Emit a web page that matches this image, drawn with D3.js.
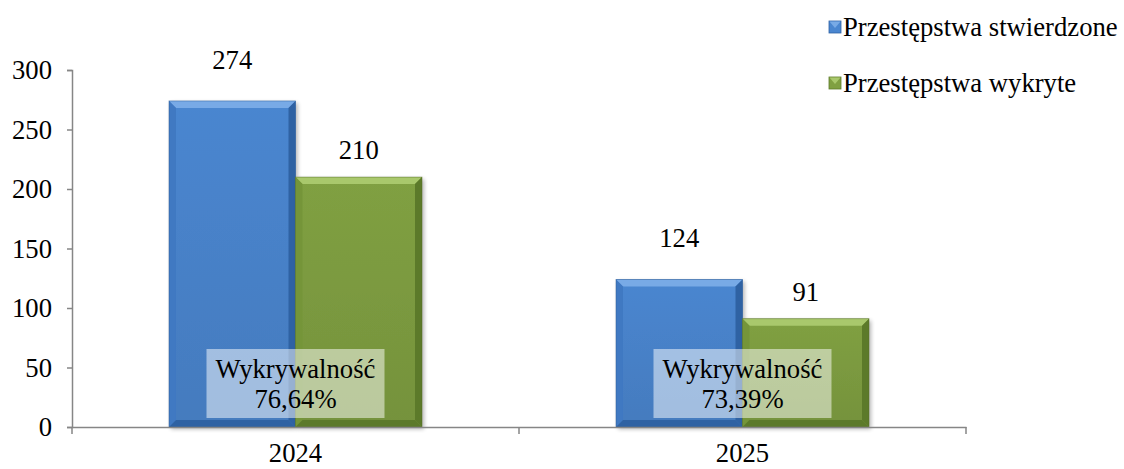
<!DOCTYPE html>
<html><head><meta charset="utf-8">
<script src="https://cdn.jsdelivr.net/npm/d3@7"></script>
<style>body{margin:0;background:#fff}svg{display:block}</style>
</head><body>
<svg id="c" width="1124" height="469"></svg>
<script>
const categories = ["2024", "2025"];
const seriesNames = ["Przestępstwa stwierdzone", "Przestępstwa wykryte"];
const stwierdzone = [274, 124];
const wykryte = [210, 91];
const wykrywalnosc = ["76,64%", "73,39%"];
const yTicks = [0, 50, 100, 150, 200, 250, 300];

const FONT = "'Liberation Serif', serif";
const FS = "26.67px";
const svg = d3.select("#c");
const W = 1124, H = 469;
const m = {l: 72, r: 158, t: 70, b: 42};
const x = d3.scaleBand().domain(categories).range([m.l, W - m.r]).paddingInner(0.434).paddingOuter(0.217);
const x0 = d3.scaleBand().domain(categories).range([m.l, W - m.r]);
const xs = d3.scaleBand().domain([0, 1]).range([0, x.bandwidth()]);
const y = d3.scaleLinear().domain([0, 300]).range([H - m.b, m.t]);

function txt(sel) { return sel.attr("font-family", null).style("font-family", FONT).style("font-size", FS).attr("fill", "#000"); }

const colors = [
  {main: "#4a86d0", light: "#78aae6", dark: "#2f62a3", side: "#4079c2"},
  {main: "#80a042", light: "#a9c86c", dark: "#5c7a2a", side: "#759539"}
];
const defs = svg.append("defs");
colors.forEach((c, i) => {
  const g = defs.append("linearGradient").attr("id", "g" + i).attr("x1", 0).attr("y1", 0).attr("x2", 0).attr("y2", 1);
  g.append("stop").attr("offset", 0).attr("stop-color", c.main);
  g.append("stop").attr("offset", 1).attr("stop-color", d3.color(c.main).darker(0.25));
});
const sh = defs.append("filter").attr("id", "sh").attr("x", -0.1).attr("y", -0.1).attr("width", 1.3).attr("height", 1.3);
sh.append("feGaussianBlur").attr("in", "SourceAlpha").attr("stdDeviation", 2);
sh.append("feOffset").attr("dx", 2).attr("dy", 2).attr("result", "b");
sh.append("feComponentTransfer").append("feFuncA").attr("type", "linear").attr("slope", 0.3);
const mg = sh.append("feMerge"); mg.append("feMergeNode"); mg.append("feMergeNode").attr("in", "SourceGraphic");

// axes
const yAxis = svg.append("g").attr("transform", `translate(${m.l},0)`)
  .call(d3.axisLeft(y).tickValues(yTicks).tickSize(5).tickPadding(15));
yAxis.attr("font-family", null);
yAxis.select(".domain").attr("stroke", "#868686").attr("stroke-width", 1.5);
yAxis.selectAll(".tick line").attr("stroke", "#868686").attr("stroke-width", 1.5);
txt(yAxis.selectAll(".tick text")).attr("dy", "0.33em");

const series = [stwierdzone, wykryte];
const labelGap = [32, 18];
const bev = 7;
series.forEach((vals, si) => {
  const c = colors[si];
  categories.forEach((cat, ci) => {
    const bx = x(cat) + xs(si), bw = xs.bandwidth();
    const by = y(vals[ci]), bh = y(0) - by;
    const g = svg.append("g");
    g.append("rect").attr("x", bx).attr("y", by).attr("width", bw).attr("height", bh)
      .attr("fill", `url(#g${si})`).attr("filter", "url(#sh)");
    const b = Math.min(bev, bh / 2);
    g.append("polygon").attr("points", [[bx, by], [bx + bw, by], [bx + bw - b, by + b], [bx + b, by + b]].join(" ")).attr("fill", c.light);
    g.append("polygon").attr("points", [[bx, by], [bx + b, by + b], [bx + b, by + bh - b], [bx, by + bh]].join(" ")).attr("fill", c.side);
    g.append("polygon").attr("points", [[bx + bw, by], [bx + bw - b, by + b], [bx + bw - b, by + bh - b], [bx + bw, by + bh]].join(" ")).attr("fill", c.dark);
    g.append("polygon").attr("points", [[bx, by + bh], [bx + b, by + bh - b], [bx + bw - b, by + bh - b], [bx + bw, by + bh]].join(" ")).attr("fill", c.dark);
    g.append("rect").attr("x", bx).attr("y", by).attr("width", bw).attr("height", bh)
      .attr("fill", "none").attr("stroke", d3.color(c.dark).darker(0.3)).attr("stroke-width", 0.8).attr("stroke-opacity", 0.6);
    txt(svg.append("text")).attr("x", bx + bw / 2).attr("y", by - labelGap[si])
      .attr("text-anchor", "middle").text(vals[ci]);
  });
});

// x axis
const xAxis = svg.append("g").attr("transform", `translate(0,${y(0)})`)
  .call(d3.axisBottom(x0).tickSize(0).tickPadding(0));
xAxis.attr("font-family", null);
xAxis.select(".domain").attr("stroke", "#868686").attr("stroke-width", 1.5);
txt(xAxis.selectAll(".tick text")).attr("dy", null).attr("y", 35);
svg.append("g").selectAll("line").data(categories.concat(["end"])).join("line")
  .attr("x1", (d, i) => i < categories.length ? x0(d) : x0.range()[1])
  .attr("x2", (d, i) => i < categories.length ? x0(d) : x0.range()[1])
  .attr("y1", y(0)).attr("y2", y(0) + 7).attr("stroke", "#868686").attr("stroke-width", 1.5);

// Wykrywalność boxes
categories.forEach((cat, ci) => {
  const cx = x0(cat) + x0.bandwidth() / 2;
  const bw = 178, bh = 69, by = y(0) - 9 - bh;
  svg.append("rect").attr("x", cx - bw / 2).attr("y", by).attr("width", bw).attr("height", bh)
    .attr("fill", "#ffffff").attr("fill-opacity", 0.5);
  txt(svg.append("text")).attr("x", cx).attr("y", by + 29).attr("text-anchor", "middle").text("Wykrywalność");
  txt(svg.append("text")).attr("x", cx).attr("y", by + 59).attr("text-anchor", "middle").text(wykrywalnosc[ci]);
});

// legend
const lg = svg.append("g").attr("transform", "translate(829,0)");
seriesNames.forEach((n, i) => {
  const ly = 27 + i * 56;
  const c = colors[i];
  lg.append("rect").attr("x", 0).attr("y", ly - 6).attr("width", 12).attr("height", 12).attr("fill", c.main).attr("stroke", c.dark).attr("stroke-width", 0.8);
  lg.append("polygon").attr("points", [[0.5, ly - 5.5], [11.5, ly - 5.5], [6, ly + 1]].join(" ")).attr("fill", c.light);
  txt(lg.append("text")).attr("x", 14).attr("y", ly + 9).text(n);
});
</script>
</body></html>
